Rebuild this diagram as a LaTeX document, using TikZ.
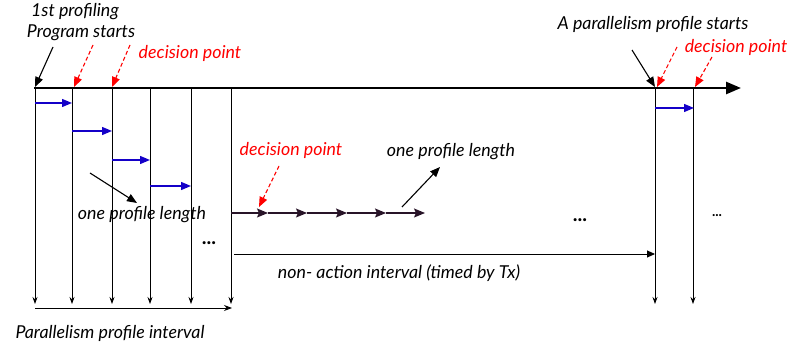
\documentclass[tikz,border=0pt]{standalone}
\usepackage{fontspec}
\setmainfont{Lato}
\usetikzlibrary{arrows.meta}
\definecolor{myblue}{RGB}{20,0,200}
\definecolor{mydark}{RGB}{40,20,40}
\begin{document}
\begin{tikzpicture}[x=1pt,y=-1pt,
  txt/.style={font=\fontsize{17.8}{20}\selectfont\itshape, inner sep=0pt},
  redtxt/.style={txt, text=red},
  vline/.style={line width=0.8pt, -{Stealth[length=7pt,width=5pt]}},
  bluearr/.style={myblue, line width=1.3pt, -{Triangle[length=10pt,width=8pt]}},
  chainarr/.style={mydark, line width=1.3pt, -{Stealth[length=11pt,width=9pt,inset=2pt]}},
  decarr/.style={red, dash pattern=on 4pt off 2.5pt, line width=1.1pt, -{Triangle[length=10pt,width=8pt]}},
  blkarr/.style={black, line width=1.1pt, -{Triangle[length=10pt,width=8pt]}},
  dots/.style={font=\fontsize{20}{22}\selectfont\bfseries, inner sep=0pt}]
\useasboundingbox (0,0) rectangle (789,352);
% timeline
\coordinate (t0) at (34,88);
\coordinate (tend) at (741,88);
\draw[line width=2.5pt, -{Triangle[length=15pt,width=12pt]}] (t0) -- (tend);
% vertical lines
\foreach \i/\x in {1/35,2/72,3/112,4/150,5/191,6/231,7/655,8/693}{
  \coordinate (vt\i) at (\x,89);
  \coordinate (vb\i) at (\x,304);
  \draw[vline] (vt\i) -- (vb\i);
}
% bottom interval arrow
\coordinate (bl) at (35,308);
\coordinate (br) at (232,308);
\draw[line width=0.9pt, -{Stealth[length=8pt,width=6pt]}] (bl) -- (br);
% blue arrows
\coordinate (b1s) at (35,103); \coordinate (b1e) at (72,103);
\coordinate (b2s) at (72,131); \coordinate (b2e) at (112,131);
\coordinate (b3s) at (112,160); \coordinate (b3e) at (150,160);
\coordinate (b4s) at (150,186); \coordinate (b4e) at (191,186);
\coordinate (b5s) at (655,108); \coordinate (b5e) at (694,108);
\foreach \k in {1,...,5}{\draw[bluearr] (b\k s) -- (b\k e);}
% chain arrows
\coordinate (c0) at (231,213);
\coordinate (c1) at (268,213);
\coordinate (c2) at (307,213);
\coordinate (c3) at (347,213);
\coordinate (c4) at (386,213);
\coordinate (c5) at (425,213);
\draw[chainarr] (c0) -- (c1);
\draw[chainarr] (c1) -- (c2);
\draw[chainarr] (c2) -- (c3);
\draw[chainarr] (c3) -- (c4);
\draw[chainarr] (c4) -- (c5);
% non-action interval
\coordinate (na0) at (234,254);
\coordinate (na1) at (655,254);
\draw[line width=0.9pt, -{Triangle[length=8pt,width=7pt]}] (na0) -- (na1);
% texts
\node[txt] (first) at (75,12) {1st profiling};
\node[txt] (prog) at (81,33) {Program starts};
\node[redtxt] (dec1) at (190,53) {decision point};
\node[txt] (apar) at (653,24) {A parallelism profile starts};
\node[redtxt] (dec2) at (736,47) {decision point};
\node[redtxt] (dec3) at (291,150) {decision point};
\node[txt] (opl1) at (451,152) {one profile length};
\node[txt] (opl2) at (142,215) {one profile length};
\node[txt] (nonact) at (399,273) {non- action interval (timed by Tx)};
\node[txt] (ppi) at (110,333) {Parallelism profile interval};
\node[dots] (dots1) at (209,243) {...};
\node[dots] (dots2) at (580,220) {...};
\node[dots, font=\fontsize{14}{16}\selectfont\bfseries] (dots3) at (717,216) {...};
% pointer arrows
\coordinate (p1s) at (53,47); \coordinate (p1e) at (35,87);
\draw[blkarr] (p1s) -- (p1e);
\coordinate (d1s) at (93,45); \coordinate (d1e) at (74,87);
\draw[decarr] (d1s) -- (d1e);
\coordinate (d2s) at (130,45); \coordinate (d2e) at (112,87);
\draw[decarr] (d2s) -- (d2e);
\coordinate (p2s) at (632,50); \coordinate (p2e) at (655,87);
\draw[blkarr] (p2s) -- (p2e);
\coordinate (d3s) at (677,47); \coordinate (d3e) at (657,87);
\draw[decarr] (d3s) -- (d3e);
\coordinate (d4s) at (712,57); \coordinate (d4e) at (695,87);
\draw[decarr] (d4s) -- (d4e);
\coordinate (d5s) at (279,166); \coordinate (d5e) at (259,207);
\draw[decarr] (d5s) -- (d5e);
\coordinate (o1s) at (402,207); \coordinate (o1e) at (440,167);
\draw[blkarr] (o1s) -- (o1e);
\coordinate (o2s) at (90,173); \coordinate (o2e) at (137,203);
\draw[blkarr] (o2s) -- (o2e);
\end{tikzpicture}
\end{document}
